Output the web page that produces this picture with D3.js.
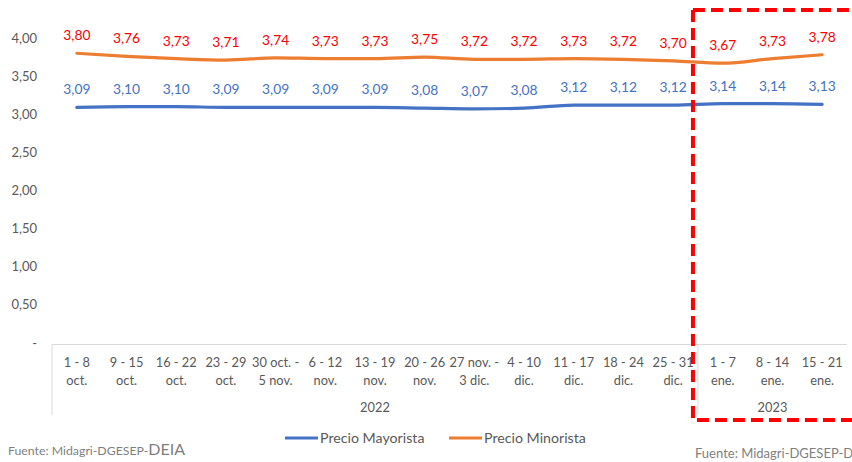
<!DOCTYPE html>
<html><head><meta charset="utf-8">
<script src="https://cdn.jsdelivr.net/npm/d3@7"></script>
<style>body{margin:0;background:#fff}svg{display:block;font-family:Lato,"Open Sans",sans-serif}</style>
</head><body><svg id="c" width="852" height="462"></svg>
<script>
const categories = [["1 - 8","oct."],["9 - 15","oct."],["16 - 22","oct."],["23 - 29","oct."],["30 oct. -","5 nov."],["6 - 12","nov."],["13 - 19","nov."],["20 - 26","nov."],["27 nov. -","3 dic."],["4 -  10","dic."],["11 - 17","dic."],["18 - 24","dic."],["25 - 31","dic."],["1 -  7","ene."],["8 - 14","ene."],["15 - 21","ene."]];
const years = [{label:"2022",from:0,to:12},{label:"2023",from:13,to:15}];
const mayorista = [3.09,3.10,3.10,3.09,3.09,3.09,3.09,3.08,3.07,3.08,3.12,3.12,3.12,3.14,3.14,3.13];
const minorista = [3.80,3.76,3.73,3.71,3.74,3.73,3.73,3.75,3.72,3.72,3.73,3.72,3.70,3.67,3.73,3.78];
const yTicks = [0,0.5,1,1.5,2,2.5,3,3.5,4];
const seriesNames = ["Precio Mayorista","Precio Minorista"];

const svg = d3.select("#c");
const L = 52, R = 847, T = 38, B = 343;
const x = d3.scaleBand().domain(d3.range(categories.length)).range([L,R]);
const cx = i => x(i) + x.bandwidth()/2;
const y = d3.scaleLinear().domain([0,4]).range([B,T]);
const fmt = v => v===0 ? "-" : d3.format(".2f")(v).replace(".",",");
const gray = "#595959";

// y labels
svg.append("g").selectAll("text").data(yTicks).join("text")
  .attr("x",37).attr("y",d=>y(d)+4.5).attr("text-anchor","end")
  .attr("font-size",13).attr("fill",gray).text(fmt);

// axis line + category box lines
const axisC = "#d9d9d9";
svg.append("line").attr("x1",L).attr("x2",R).attr("y1",B+1.5).attr("y2",B+1.5).attr("stroke",axisC);
const sepX = [L, x(years[1].from)];
svg.append("g").selectAll("line").data(sepX).join("line")
  .attr("x1",d=>d).attr("x2",d=>d).attr("y1",B+1.5).attr("y2",415).attr("stroke",axisC);

// category labels
const cg = svg.append("g").selectAll("text").data(categories).join("text")
  .attr("text-anchor","middle").attr("font-size",12.8).attr("fill",gray);
cg.append("tspan").attr("x",(d,i)=>cx(i)).attr("y",367).text(d=>d[0]);
cg.append("tspan").attr("x",(d,i)=>cx(i)).attr("y",385).text(d=>d[1]);
svg.append("g").selectAll("text").data(years).join("text")
  .attr("x",d=>(x(d.from)+(d.to===categories.length-1?R:x(d.to)+x.bandwidth()))/2)
  .attr("y",412).attr("text-anchor","middle").attr("font-size",12.8).attr("fill",gray).text(d=>d.label);

// lines
const line = d3.line().x((d,i)=>cx(i)).y(d=>y(d)).curve(d3.curveMonotoneX);
const colors = ["#4472C4","#ED7D31"];
[mayorista,minorista].forEach((s,k)=>{
  svg.append("path").datum(s).attr("d",line).attr("fill","none")
    .attr("stroke",colors[k]).attr("stroke-width",3.2).attr("stroke-linecap","round");
});
// data labels
svg.append("g").selectAll("text").data(mayorista).join("text")
  .attr("x",(d,i)=>cx(i)).attr("y",d=>y(d)-13).attr("text-anchor","middle")
  .attr("font-size",13.8).attr("fill","#4472C4").text(fmt);
svg.append("g").selectAll("text").data(minorista).join("text")
  .attr("x",(d,i)=>cx(i)).attr("y",d=>y(d)-13).attr("text-anchor","middle")
  .attr("font-size",13.8).attr("fill","#FF0000").text(fmt);

// legend
const lg = svg.append("g");
[[285,"Precio Mayorista"],[449,"Precio Minorista"]].forEach((p,k)=>{
  lg.append("line").attr("x1",p[0]).attr("x2",p[0]+33).attr("y1",438).attr("y2",438)
    .attr("stroke",colors[k]).attr("stroke-width",3);
  lg.append("text").attr("x",p[0]+35).attr("y",443).attr("font-size",14.2).attr("fill",gray).text(seriesNames[k]);
});

// source notes
const s1 = svg.append("text").attr("x",8).attr("y",455).attr("font-size",12.3).attr("fill","#7f7f7f");
s1.append("tspan").text("Fuente: Midagri-DGESEP-");
s1.append("tspan").attr("font-size",16).text("DEIA");
svg.append("text").attr("x",695).attr("y",458).attr("font-size",13).attr("fill","#7f7f7f").text("Fuente: Midagri-DGESEP-DEIA");

// red dashed highlight box
const bx = x(years[1].from) - 5;
svg.append("path").attr("d",`M${bx},${10} L${860},${10} M${bx},${10} L${bx},${420} L${860},${420}`)
  .attr("fill","none").attr("stroke","#FF0000").attr("stroke-width",4).attr("stroke-dasharray","12,6");
</script></body></html>
